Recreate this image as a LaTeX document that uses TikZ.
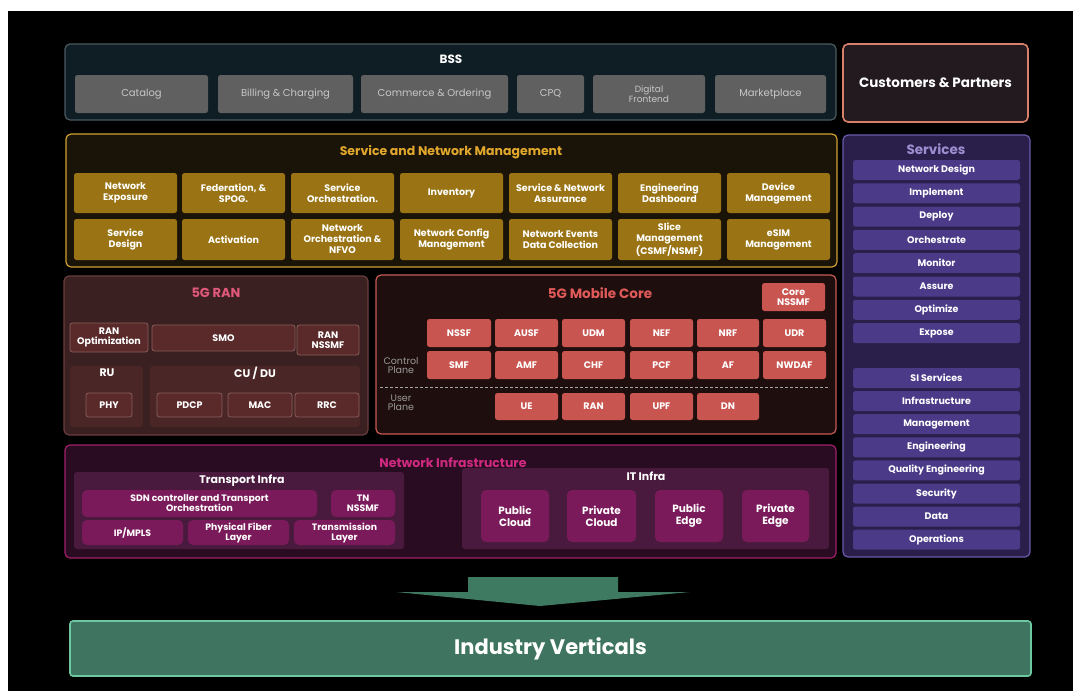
\documentclass[tikz,border=0pt]{standalone}
\usepackage{fontspec}
\setmainfont{Poppins}
\definecolor{bssfill}{HTML}{0E1E24}
\definecolor{bssline}{HTML}{4A5A60}
\definecolor{bssitemc}{HTML}{606060}
\definecolor{bsstext}{HTML}{C8C8C8}
\definecolor{custfill}{HTML}{221A1F}
\definecolor{custline}{HTML}{D8806A}
\definecolor{snmfill}{HTML}{1A1408}
\definecolor{snmline}{HTML}{D0A030}
\definecolor{snmitemc}{HTML}{9A7414}
\definecolor{snmtitle}{HTML}{E2A82E}
\definecolor{svcfill}{HTML}{2A1F4A}
\definecolor{svcline}{HTML}{6A5AAA}
\definecolor{svcitemc}{HTML}{4A3A88}
\definecolor{svctitle}{HTML}{9C8ED0}
\definecolor{ranfill}{HTML}{3A2020}
\definecolor{ranline}{HTML}{6A3C3C}
\definecolor{ranboxc}{HTML}{4A2626}
\definecolor{ranitemc}{HTML}{5A2A2A}
\definecolor{ranitemline}{HTML}{8A5E5E}
\definecolor{rantitle}{HTML}{E0587A}
\definecolor{corefill}{HTML}{1F0E0E}
\definecolor{coreline}{HTML}{C85A55}
\definecolor{coreitemc}{HTML}{C85550}
\definecolor{coretitle}{HTML}{E05A58}
\definecolor{nifill}{HTML}{2A0C22}
\definecolor{niline}{HTML}{A0206A}
\definecolor{niboxc}{HTML}{4A1A3E}
\definecolor{niitemc}{HTML}{7A1A5A}
\definecolor{nititle}{HTML}{D02A80}
\definecolor{indfill}{HTML}{3F7560}
\definecolor{indline}{HTML}{6CC8A0}
\definecolor{arrowc}{HTML}{3E7A62}
\newcommand\bx[7]{\node[#1,minimum width={#4-#2},minimum height={#5-#3}] (#6) at ({(#2+#4)/2},{(#3+#5)/2}) {#7};}
\tikzset{
  frame/.style={rounded corners=5pt, inner sep=0pt, outer sep=0pt, line width=1.2pt},
  itembox/.style={rounded corners=2.5pt, inner sep=0pt, outer sep=0pt, align=center, text=white,
    font=\fontsize{9.5}{11}\selectfont\bfseries},
  bssitem/.style={itembox, fill=bssitemc, text=bsstext, font=\fontsize{10}{9.5}\selectfont},
  snmitem/.style={itembox, fill=snmitemc},
  svcitem/.style={itembox, fill=svcitemc, minimum width=167, minimum height=20},
  ranitem/.style={itembox, fill=ranitemc, draw=ranitemline, line width=0.8pt, font=\fontsize{9.5}{10}\selectfont\bfseries},
  ranbox/.style={rounded corners=3pt, inner sep=0pt, outer sep=0pt, fill=ranboxc},
  coreitem/.style={itembox, fill=coreitemc, font=\fontsize{9.5}{10}\selectfont\bfseries},
  nibox/.style={rounded corners=3pt, inner sep=0pt, outer sep=0pt, fill=niboxc},
  niitem/.style={itembox, fill=niitemc, rounded corners=5pt, font=\fontsize{9.3}{10}\selectfont\bfseries},
  ttl/.style={inner sep=0pt, font=\fontsize{12}{13}\selectfont\bfseries},
  sub/.style={inner sep=0pt, text=white, font=\fontsize{11}{12}\selectfont\bfseries},
  plane/.style={inner sep=0pt, align=center, text=gray!80, font=\fontsize{9.5}{9}\selectfont}
}
\begin{document}
\begin{tikzpicture}[x=1pt,y=-1pt]
\useasboundingbox (0,0) rectangle (1073,691);
\fill[white] (0,0) rectangle (1073,691);
\fill[black] (8,11) rectangle (1073,691);

% BSS
\bx{frame,draw=bssline,fill=bssfill}{65}{44}{836}{120}{bss}{}
\node[ttl,text=white] (bsst) at (451,59) {BSS};
\bx{bssitem}{75}{75}{208}{113}{catalog}{Catalog}
\bx{bssitem}{218}{75}{353}{113}{billing}{Billing \& Charging}
\bx{bssitem}{361}{75}{508}{113}{commerce}{Commerce \& Ordering}
\bx{bssitem}{517}{75}{584}{113}{cpq}{CPQ}
\bx{bssitem,font=\fontsize{9}{9}\selectfont}{593}{75}{705}{113}{digital}{Digital\\Frontend}
\bx{bssitem}{715}{75}{826}{113}{market}{Marketplace}

% Customers
\bx{frame,draw=custline,fill=custfill,line width=1.6pt,text=white,font=\fontsize{13.5}{14}\selectfont\bfseries}{843}{44}{1028}{122}{cust}{Customers \& Partners}

% Service and Network Management
\bx{frame,draw=snmline,fill=snmfill}{66}{134}{837}{267}{snm}{}
\node[ttl,text=snmtitle,font=\fontsize{12.5}{13}\selectfont\bfseries] (snmt) at (451,152) {Service and Network Management};
\bx{snmitem}{74}{173}{177}{213}{ne}{Network\\Exposure}
\bx{snmitem}{182}{173}{285}{213}{fed}{Federation, \&\\SPOG.}
\bx{snmitem}{291}{173}{394}{213}{so}{Service\\Orchestration.}
\bx{snmitem}{400}{173}{503}{213}{inv}{Inventory}
\bx{snmitem}{509}{173}{612}{213}{sna}{Service \& Network\\Assurance}
\bx{snmitem}{618}{173}{721}{213}{ed}{Engineering\\Dashboard}
\bx{snmitem}{727}{173}{830}{213}{dm}{Device\\Management}
\bx{snmitem}{74}{219}{177}{260}{sd}{Service\\Design}
\bx{snmitem}{182}{219}{285}{260}{act}{Activation}
\bx{snmitem}{291}{219}{394}{260}{nfvo}{Network\\Orchestration \&\\NFVO}
\bx{snmitem}{400}{219}{503}{260}{ncm}{Network Config\\Management}
\bx{snmitem}{509}{219}{612}{260}{nedc}{Network Events\\Data Collection}
\bx{snmitem}{618}{219}{721}{260}{slice}{Slice\\Management\\(CSMF/NSMF)}
\bx{snmitem}{727}{219}{830}{260}{esim}{eSIM\\Management}

% Services
\bx{frame,draw=svcline,fill=svcfill}{843}{135}{1030}{557}{svc}{}
\node[ttl,text=svctitle,font=\fontsize{13.5}{14}\selectfont\bfseries] (svct) at (936,149) {Services};
\foreach \t [count=\i] in {Network Design,Implement,Deploy,Orchestrate,Monitor,Assure,Optimize,Expose}
  \node[svcitem] (sa\i) at (936.5,{170+23.3*(\i-1)}) {\t};
\foreach \t [count=\i] in {SI Services,Infrastructure,Management,Engineering,Quality Engineering,Security,Data,Operations}
  \node[svcitem] (sb\i) at (936.5,{378+23.1*(\i-1)}) {\t};

% 5G RAN
\bx{frame,draw=ranline,fill=ranfill}{64}{276}{368}{435}{ran}{}
\node[ttl,text=rantitle,font=\fontsize{13}{14}\selectfont\bfseries] (rant) at (216,293) {5G RAN};
\bx{ranitem}{70}{323}{148}{352}{ranopt}{RAN\\Optimization}
\bx{ranitem}{152}{325}{295}{351}{smo}{SMO}
\bx{ranitem}{297}{325}{359}{355}{rannssmf}{RAN\\NSSMF}
\bx{ranbox}{70}{366}{143}{427}{ru}{}
\bx{ranbox}{150}{366}{360}{427}{cudu}{}
\node[sub] (rut) at (107,373) {RU};
\node[sub] (cudut) at (255,373) {CU / DU};
\bx{ranitem}{86}{393}{132}{417}{phy}{PHY}
\bx{ranitem}{157}{393}{222}{417}{pdcp}{PDCP}
\bx{ranitem}{228}{393}{292}{417}{mac}{MAC}
\bx{ranitem}{295}{393}{359}{417}{rrc}{RRC}

% 5G Mobile Core
\bx{frame,draw=coreline,fill=corefill}{376}{275}{836}{434}{core}{}
\node[ttl,text=coretitle,font=\fontsize{13.5}{14}\selectfont\bfseries] (coret) at (600,293) {5G Mobile Core};
\bx{coreitem}{762}{283}{825}{311}{corenssmf}{Core\\NSSMF}
\bx{coreitem}{427}{319}{491}{347}{nssf}{NSSF}
\bx{coreitem}{495}{319}{558}{347}{ausf}{AUSF}
\bx{coreitem}{562}{319}{625}{347}{udm}{UDM}
\bx{coreitem}{630}{319}{693}{347}{nef}{NEF}
\bx{coreitem}{697}{319}{759}{347}{nrf}{NRF}
\bx{coreitem}{763}{319}{826}{347}{udr}{UDR}
\bx{coreitem}{427}{351}{491}{379}{smf}{SMF}
\bx{coreitem}{495}{351}{558}{379}{amf}{AMF}
\bx{coreitem}{562}{351}{625}{379}{chf}{CHF}
\bx{coreitem}{630}{351}{693}{379}{pcf}{PCF}
\bx{coreitem}{697}{351}{759}{379}{af}{AF}
\bx{coreitem}{763}{351}{826}{379}{nwdaf}{NWDAF}
\bx{coreitem}{495}{393}{558}{420}{ue}{UE}
\bx{coreitem}{562}{393}{625}{420}{ranu}{RAN}
\bx{coreitem}{630}{393}{693}{420}{upf}{UPF}
\bx{coreitem}{697}{393}{759}{420}{dn}{DN}
\node[plane] (cp) at (401,366) {Control\\Plane};
\node[plane] (up) at (401,403) {User\\Plane};
\draw[gray!70, line width=0.8pt, dash pattern=on 3pt off 2pt] (380,387) -- (828,387);

% Network Infrastructure
\bx{frame,draw=niline,fill=nifill}{65}{445}{836}{558}{ni}{}
\node[ttl,text=nititle,font=\fontsize{12.5}{13}\selectfont\bfseries] (nit) at (453,463) {Network Infrastructure};
\bx{nibox}{74}{472}{404}{549}{tinfra}{}
\node[sub] (tinfrat) at (242,481) {Transport Infra};
\bx{niitem}{82}{490}{317}{517}{sdn}{SDN controller and Transport\\Orchestration}
\bx{niitem}{331}{490}{395}{517}{tn}{TN\\NSSMF}
\bx{niitem}{82}{520}{183}{545}{ipmpls}{IP/MPLS}
\bx{niitem}{188}{520}{289}{545}{fiber}{Physical Fiber\\Layer}
\bx{niitem}{294}{520}{395}{545}{trans}{Transmission\\Layer}
\bx{nibox}{462}{468}{829}{549}{itinfra}{}
\node[sub] (itinfrat) at (646,476) {IT Infra};
\bx{niitem,font=\fontsize{10.5}{12}\selectfont\bfseries}{481}{490}{549}{542}{pubc}{Public\\Cloud}
\bx{niitem,font=\fontsize{10.5}{12}\selectfont\bfseries}{567}{490}{636}{542}{privc}{Private\\Cloud}
\bx{niitem,font=\fontsize{10.5}{12}\selectfont\bfseries}{655}{490}{723}{542}{pube}{Public\\Edge}
\bx{niitem,font=\fontsize{10.5}{12}\selectfont\bfseries}{742}{490}{809}{542}{prive}{Private\\Edge}

% Arrow
\fill[arrowc] (468,577) -- (618,577) -- (618,592) -- (690,592) -- (540,606) -- (396,592) -- (468,592) -- cycle;

% Industry Verticals
\bx{frame,rounded corners=3pt,draw=indline,fill=indfill,line width=1.6pt,text=white,font=\fontsize{21}{22}\selectfont\bfseries}{70}{621}{1031}{676}{ind}{Industry Verticals}
\end{tikzpicture}
\end{document}
